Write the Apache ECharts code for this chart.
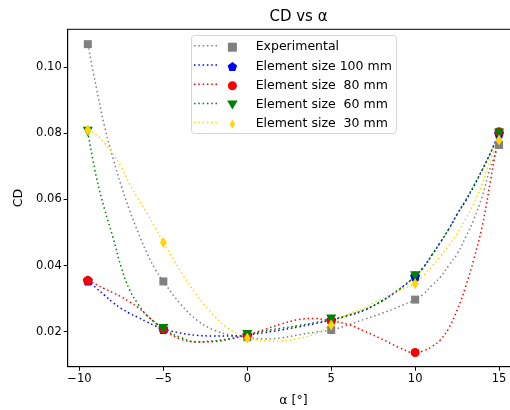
<!DOCTYPE html>
<html>
<head>
<meta charset="utf-8">
<script src="https://cdn.jsdelivr.net/npm/echarts@6/dist/echarts.min.js"></script>
<style>html,body{margin:0;padding:0;background:#fff}#main{width:510px;height:410px}</style>
</head>
<body>
<div id="main"></div>
<script>
// measured points
var alphaPts = [-9.5, -5, 0, 5, 10, 15];
var experimental = [0.1070, 0.0352, 0.0183, 0.0205, 0.0297, 0.0765];
var size100 = [0.0355, 0.0208, 0.0190, 0.0235, 0.0368, 0.0800];
var size80 = [0.0355, 0.0207, 0.0190, 0.0232, 0.0137, 0.0805];
var size60 = [0.0805, 0.0208, 0.0190, 0.0237, 0.0368, 0.0800];
var size30 = [0.0810, 0.0470, 0.0180, 0.0220, 0.0345, 0.0780];

// fitted curves
var fitAlpha = [-9.5, -9, -8.5, -8, -7.5, -7, -6.5, -6, -5.5, -5, -4, -3, -2, -1, 0, 1, 2, 3, 4, 5,
  6, 7, 8, 9, 10, 10.5, 11, 11.5, 12, 12.5, 13, 13.5, 14, 14.5, 15];
var fitExp = [0.107, 0.094, 0.082, 0.0725, 0.064, 0.0565, 0.050, 0.044, 0.039, 0.0352, 0.0285, 0.0235,
  0.0205, 0.019, 0.0183, 0.0178, 0.0181, 0.019, 0.0198, 0.0205, 0.022, 0.0238, 0.0255, 0.0275, 0.0297,
  0.0314, 0.034, 0.0365, 0.040, 0.0435, 0.0485, 0.054, 0.061, 0.0700, 0.0765];
var fit100 = [0.0355, 0.0332, 0.031, 0.0288, 0.027, 0.0255, 0.0243, 0.023, 0.0218, 0.0208, 0.0196, 0.0189,
  0.0187, 0.0187, 0.019, 0.0197, 0.0205, 0.0214, 0.0224, 0.0235, 0.0248, 0.0265, 0.0292, 0.0325, 0.0368,
  0.0395, 0.0432, 0.047, 0.051, 0.0555, 0.0595, 0.064, 0.069, 0.0742, 0.080];
var fit80 = [0.0355, 0.0343, 0.033, 0.0318, 0.0305, 0.029, 0.0273, 0.025, 0.0228, 0.0207, 0.0178, 0.0169,
  0.017, 0.0178, 0.019, 0.0206, 0.0223, 0.0236, 0.024, 0.0232, 0.0222, 0.0201, 0.0178, 0.0153, 0.0136,
  0.0142, 0.0155, 0.0175, 0.021, 0.0265, 0.0335, 0.042, 0.052, 0.066, 0.0805];
var fit60 = [0.0805, 0.067, 0.057, 0.0485, 0.0393, 0.0325, 0.0283, 0.025, 0.0228, 0.0208, 0.0183, 0.0169,
  0.0172, 0.0179, 0.019, 0.0202, 0.021, 0.0218, 0.0227, 0.0237, 0.025, 0.0267, 0.0293, 0.0327, 0.0368,
  0.0395, 0.0432, 0.047, 0.051, 0.0555, 0.0597, 0.0643, 0.069, 0.0742, 0.080];
var fit30 = [0.081, 0.0796, 0.077, 0.0738, 0.0698, 0.0646, 0.0602, 0.056, 0.0516, 0.047, 0.0385, 0.031,
  0.025, 0.0205, 0.0182, 0.0173, 0.0172, 0.0179, 0.0193, 0.022, 0.0252, 0.0273, 0.030, 0.0323, 0.0347,
  0.037, 0.0397, 0.0427, 0.046, 0.0496, 0.054, 0.0588, 0.0648, 0.0725, 0.078];

var names = ['Experimental', 'Element size 100 mm', 'Element size  80 mm', 'Element size  60 mm', 'Element size  30 mm'];
var xTicks = [-10, -5, 0, 5, 10, 15];
var yTicks = [0.02, 0.04, 0.06, 0.08, 0.10];

var points = [experimental, size100, size80, size60, size30];
var fits = [fitExp, fit100, fit80, fit60, fit30];
var colors = ['#808080', '#0000ff', '#ff0000', '#008000', '#ffd700'];
var symbols = [
  'path://M0,0L1,0L1,1L0,1Z',
  'path://M0,-1L0.951,-0.309L0.588,0.809L-0.588,0.809L-0.951,-0.309Z',
  'circle',
  'path://M-1,-0.8L1,-0.8L0,0.9Z',
  'path://M0,-1L0.6,0L0,1L-0.6,0Z'
];
var sizes = [8, 10, 9, 10, [7, 11]];

function zip(xs, ys) {
  return xs.map(function (x, i) { return [x, ys[i]]; });
}

var font = 'DejaVu Sans';
var series = [];
for (var i = 0; i < 5; i++) {
  series.push({
    name: names[i],
    type: 'scatter',
    data: zip(alphaPts, points[i]),
    symbol: symbols[i],
    symbolSize: sizes[i],
    itemStyle: { color: colors[i], opacity: 1 },
    z: 4 + i
  });
}
for (var j = 0; j < 5; j++) {
  series.push({
    name: names[j] + ' fit',
    type: 'line',
    data: zip(fitAlpha, fits[j]),
    showSymbol: false,
    smooth: 0.4,
    lineStyle: { color: colors[j], width: 1.5, type: [1.5, 2.8], cap: 'butt' },
    z: 2,
    silent: true
  });
}

var legendRows = [45.7, 65, 84.2, 103.4, 122.6];
var graphics = [{
  type: 'rect',
  shape: { x: 191.5, y: 35.5, width: 205, height: 98, r: 3 },
  style: { fill: 'rgba(255,255,255,0.8)', stroke: '#d6d6d6', lineWidth: 1 },
  z: 1
}];
legendRows.forEach(function (y, k) {
  graphics.push({
    type: 'line',
    shape: { x1: 194, y1: y, x2: 218, y2: y },
    style: { stroke: colors[k], lineWidth: 1.5, lineDash: [1.5, 2.8] },
    z: 5
  });
});

var chart = echarts.init(document.getElementById('main'));
chart.setOption({
  animation: false,
  backgroundColor: '#fff',
  title: {
    text: 'CD vs α',
    left: 293.5,
    textAlign: 'center',
    top: 5,
    textStyle: { fontFamily: font, fontSize: 15, fontWeight: 'normal', color: '#000' }
  },
  grid: {
    left: 67.7, width: 451.5, top: 29.3, bottom: 43.3,
    outerBoundsMode: 'none', containLabel: false,
    show: true, borderColor: '#000', borderWidth: 1
  },
  legend: {
    data: names,
    orient: 'vertical',
    left: 222.1,
    top: 35.2,
    itemWidth: 36.6,
    itemHeight: 9,
    itemGap: 5.25,
    textStyle: { fontFamily: font, fontSize: 12.5, color: '#000', lineHeight: 14 },
    z: 6
  },
  graphic: graphics,
  xAxis: {
    type: 'value',
    min: -10.7,
    max: 16.2,
    name: 'α [°]',
    nameLocation: 'middle',
    nameGap: 28,
    nameTextStyle: { fontFamily: font, fontSize: 12.5, color: '#000' },
    splitLine: { show: false },
    axisLine: { onZero: false, lineStyle: { color: '#000' } },
    axisTick: { length: 4, customValues: xTicks, lineStyle: { color: '#000' } },
    axisLabel: {
      customValues: xTicks,
      fontFamily: font, fontSize: 11.5, color: '#000', margin: 6,
      formatter: function (v) { return String(v).replace('-', '\u2212'); }
    }
  },
  yAxis: {
    type: 'value',
    min: 0.0094,
    max: 0.1115,
    name: 'CD',
    nameLocation: 'middle',
    nameGap: 42,
    nameTextStyle: { fontFamily: font, fontSize: 12.5, color: '#000' },
    splitLine: { show: false },
    axisLine: { show: true, onZero: false, lineStyle: { color: '#000' } },
    axisTick: { show: true, length: 4, customValues: yTicks, lineStyle: { color: '#000' } },
    axisLabel: {
      customValues: yTicks,
      fontFamily: font, fontSize: 11.5, color: '#000', margin: 6,
      formatter: function (v) { return v.toFixed(2); }
    }
  },
  series: series
});
</script>
</body>
</html>
